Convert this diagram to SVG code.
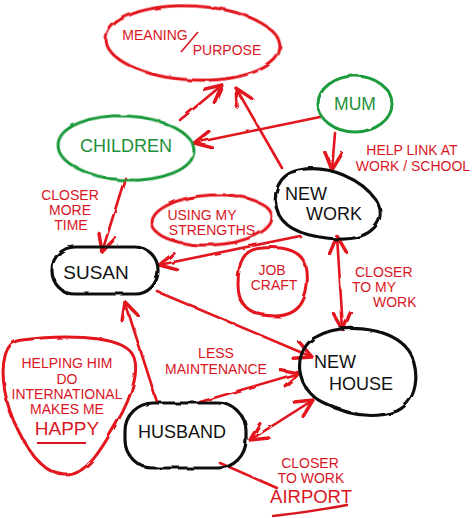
<svg xmlns="http://www.w3.org/2000/svg" width="474" height="518" viewBox="0 0 474 518">
<style>
.red{fill:none;stroke:#e2141c;stroke-width:3;stroke-linecap:round}
.grn{fill:none;stroke:#1f9b3e;stroke-width:3}
.blk{fill:none;stroke:#111;stroke-width:3.2}
.con{fill:none;stroke:#e2141c;stroke-width:2.6;stroke-linecap:round}
text{font-family:"Liberation Sans",Arial,sans-serif;text-anchor:middle}
.tr{fill:#d9161f;font-size:14px}
.tb{fill:#111;font-size:18px}
.tg{fill:#1f8f3a;font-size:17.5px}
</style>
<defs>
<filter id="rough" x="-10%" y="-10%" width="120%" height="120%">
<feTurbulence type="fractalNoise" baseFrequency="0.06" numOctaves="2" seed="3"/>
<feDisplacementMap in="SourceGraphic" scale="3"/>
</filter>
<marker id="ah" markerUnits="userSpaceOnUse" markerWidth="20" markerHeight="20" viewBox="0 0 14 14" refX="13" refY="7" orient="auto-start-reverse">
<path d="M1,1 L13,7 L1,13" fill="none" stroke="#e2141c" stroke-width="2.4" stroke-linecap="round"/>
</marker>
</defs>
<rect width="474" height="518" fill="#fff"/>

<g id="connectors" filter="url(#rough)">
<line class="con" x1="180" y1="120" x2="222" y2="85" marker-end="url(#ah)"/>
<line class="con" x1="282" y1="168" x2="236" y2="88" marker-end="url(#ah)"/>
<line class="con" x1="320" y1="117" x2="194" y2="143" marker-end="url(#ah)"/>
<line class="con" x1="335" y1="133" x2="332" y2="170" marker-end="url(#ah)"/>
<line class="con" x1="125" y1="178" x2="102" y2="252" marker-end="url(#ah)"/>
<line class="con" x1="300" y1="236" x2="159" y2="265" marker-end="url(#ah)"/>
<line class="con" x1="158" y1="292" x2="312" y2="357" marker-end="url(#ah)"/>
<line class="con" x1="200" y1="402" x2="299" y2="373" marker-end="url(#ah)"/>
<line class="con" x1="337" y1="236" x2="343" y2="330" marker-start="url(#ah)" marker-end="url(#ah)"/>
<line class="con" x1="157" y1="402" x2="125" y2="302" marker-end="url(#ah)"/>
<line class="con" x1="250" y1="440" x2="313" y2="400" marker-start="url(#ah)" marker-end="url(#ah)"/>
<line class="con" x1="220" y1="463" x2="277" y2="488"/>
</g>

<g id="meaning">
<ellipse class="red" cx="193" cy="43" rx="87" ry="37" transform="rotate(3 193 43)" filter="url(#rough)"/>
<text class="tr" x="155" y="40">MEANING</text>
<line x1="181" y1="52" x2="198" y2="32" stroke="#d9161f" stroke-width="1.6"/>
<text class="tr" x="227" y="55">PURPOSE</text>
</g>

<g id="mum">
<ellipse class="grn" cx="355" cy="104" rx="37" ry="28" filter="url(#rough)"/>
<text class="tg" x="355" y="110">MUM</text>
</g>

<g id="help-link">
<text class="tr" x="412" y="155">HELP LINK AT</text>
<text class="tr" x="413" y="171">WORK / SCHOOL</text>
</g>

<g id="children">
<ellipse class="grn" cx="126" cy="148" rx="68" ry="32" transform="rotate(3 126 148)" filter="url(#rough)"/>
<text class="tg" x="126" y="152" style="font-size:18px">CHILDREN</text>
</g>

<g id="new-work">
<path class="blk" filter="url(#rough)" d="M299,170 C330,164 362,180 376,200 C389,221 370,240 340,239 C314,238 288,232 279,215 C270,195 278,174 299,170 Z"/>
<text class="tb" x="306" y="200">NEW</text>
<text class="tb" x="334" y="220">WORK</text>
</g>

<g id="closer-more-time">
<text class="tr" x="70" y="200">CLOSER</text>
<text class="tr" x="70" y="215">MORE</text>
<text class="tr" x="71" y="230">TIME</text>
</g>

<g id="strengths">
<ellipse class="red" cx="212" cy="220" rx="60" ry="25" transform="rotate(-3 212 220)" filter="url(#rough)"/>
<text class="tr" x="202" y="220">USING MY</text>
<text class="tr" x="212" y="235">STRENGTHS</text>
</g>

<g id="susan">
<rect class="blk" x="52" y="247" width="106" height="47" rx="23" filter="url(#rough)"/>
<text class="tb" x="96" y="279" style="font-size:19px">SUSAN</text>
</g>

<g id="job-craft">
<path class="red" filter="url(#rough)" d="M262,248 C285,246 305,250 307,272 C309,295 302,316 275,316 C250,316 238,305 238,285 C238,262 243,249 262,248 Z"/>
<text class="tr" x="272" y="275">JOB</text>
<text class="tr" x="274" y="290">CRAFT</text>
</g>

<g id="closer-my-work">
<text class="tr" x="355" y="277" style="text-anchor:start">CLOSER</text>
<text class="tr" x="352" y="292" style="text-anchor:start">TO MY</text>
<text class="tr" x="373" y="307" style="text-anchor:start">WORK</text>
</g>

<g id="new-house">
<path class="blk" filter="url(#rough)" d="M322,402 C298,390 290,355 314,338 C340,322 386,327 405,346 C421,364 420,400 397,411 C372,420 345,414 322,402 Z"/>
<text class="tb" x="335" y="368">NEW</text>
<text class="tb" x="361" y="390">HOUSE</text>
</g>

<g id="helping">
<path class="red" filter="url(#rough)" d="M22,340 C60,335 112,335 129,350 C143,363 133,395 116,424 C101,450 86,476 65,475 C45,474 30,455 18,430 C5,405 0,375 5,356 C8,345 13,341 22,340 Z"/>
<text class="tr" x="67" y="368">HELPING HIM</text>
<text class="tr" x="67" y="384">DO</text>
<text class="tr" x="67" y="399">INTERNATIONAL</text>
<text class="tr" x="67" y="414">MAKES ME</text>
<text class="tr" x="67" y="435" style="font-size:19px">HAPPY</text>
<line x1="37" y1="443" x2="86" y2="443" stroke="#d9161f" stroke-width="2"/>
</g>

<g id="husband">
<rect class="blk" x="125" y="403" width="121" height="65" rx="28" filter="url(#rough)"/>
<text class="tb" x="182" y="438">HUSBAND</text>
</g>

<g id="less-maintenance">
<text class="tr" x="216" y="358">LESS</text>
<text class="tr" x="216" y="374">MAINTENANCE</text>
</g>

<g id="airport">
<text class="tr" x="310" y="468">CLOSER</text>
<text class="tr" x="311" y="483">TO WORK</text>
<text class="tr" x="311" y="503" style="font-size:18.5px">AIRPORT</text>
<path d="M273,516 Q310,512 347,505" fill="none" stroke="#d9161f" stroke-width="2.4" stroke-linecap="round"/>
</g>
</svg>
